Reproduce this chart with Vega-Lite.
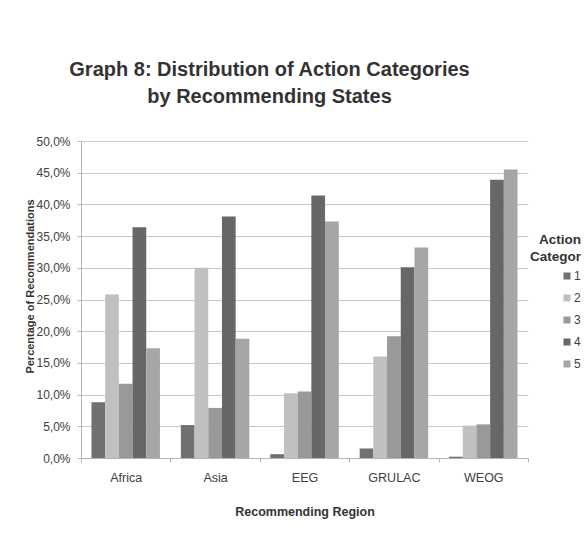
{
  "$schema": "https://vega.github.io/schema/vega-lite/v6.json",
  "autosize": {"type": "none"},
  "width": 447,
  "height": 317,
  "padding": {"left": 81, "top": 141, "right": 56, "bottom": 100},
  "background": "white",
  "title": {
    "text": ["Graph 8: Distribution of Action Categories", "by Recommending States"],
    "fontSize": 20,
    "fontWeight": "bold",
    "font": "Liberation Sans",
    "color": "#333333",
    "lineHeight": 27.5,
    "anchor": "middle",
    "dx": -35,
    "offset": 28
  },
  "data": {
    "values": [
      {"region": "Africa", "cat": "1", "pct": 0.088},
      {"region": "Africa", "cat": "2", "pct": 0.258},
      {"region": "Africa", "cat": "3", "pct": 0.117},
      {"region": "Africa", "cat": "4", "pct": 0.364},
      {"region": "Africa", "cat": "5", "pct": 0.173},
      {"region": "Asia", "cat": "1", "pct": 0.052},
      {"region": "Asia", "cat": "2", "pct": 0.300},
      {"region": "Asia", "cat": "3", "pct": 0.079},
      {"region": "Asia", "cat": "4", "pct": 0.381},
      {"region": "Asia", "cat": "5", "pct": 0.188},
      {"region": "EEG", "cat": "1", "pct": 0.006},
      {"region": "EEG", "cat": "2", "pct": 0.102},
      {"region": "EEG", "cat": "3", "pct": 0.105},
      {"region": "EEG", "cat": "4", "pct": 0.414},
      {"region": "EEG", "cat": "5", "pct": 0.373},
      {"region": "GRULAC", "cat": "1", "pct": 0.015},
      {"region": "GRULAC", "cat": "2", "pct": 0.160},
      {"region": "GRULAC", "cat": "3", "pct": 0.192},
      {"region": "GRULAC", "cat": "4", "pct": 0.301},
      {"region": "GRULAC", "cat": "5", "pct": 0.332},
      {"region": "WEOG", "cat": "1", "pct": 0.002},
      {"region": "WEOG", "cat": "2", "pct": 0.051},
      {"region": "WEOG", "cat": "3", "pct": 0.053},
      {"region": "WEOG", "cat": "4", "pct": 0.439},
      {"region": "WEOG", "cat": "5", "pct": 0.455}
    ]
  },
  "mark": {"type": "bar"},
  "encoding": {
    "x": {
      "field": "region",
      "type": "nominal",
      "sort": ["Africa", "Asia", "EEG", "GRULAC", "WEOG"],
      "scale": {"paddingInner": 0, "paddingOuter": 0},
      "axis": {
        "title": "Recommending Region",
        "labelAngle": 0,
        "tickBand": "extent",
        "grid": false,
        "tickSize": 4,
        "labelPadding": 9,
        "titlePadding": 22,
        "labelFontSize": 12.5,
        "titleFontSize": 12.5
      }
    },
    "xOffset": {
      "field": "cat",
      "type": "nominal",
      "scale": {"paddingInner": 0, "paddingOuter": 0.763}
    },
    "y": {
      "field": "pct",
      "type": "quantitative",
      "scale": {"domain": [0, 0.5], "nice": false},
      "axis": {
        "title": "Percentage of Recommendations",
        "format": ".1%",
        "values": [0, 0.05, 0.1, 0.15, 0.2, 0.25, 0.3, 0.35, 0.4, 0.45, 0.5],
        "tickSize": 4,
        "labelPadding": 7,
        "titlePadding": 0,
        "titleFontSize": 11,
        "labelFontSize": 12,
        "titleY": 145
      }
    },
    "color": {
      "field": "cat",
      "type": "nominal",
      "scale": {
        "domain": ["1", "2", "3", "4", "5"],
        "range": ["#717171", "#c0c0c0", "#999999", "#676767", "#a6a6a6"]
      },
      "legend": {
        "title": ["Action", "Categor"],
        "orient": "none",
        "legendX": 449,
        "legendY": 92,
        "titleAnchor": "end",
        "titleAlign": "right",
        "titleFontSize": 13.5,
        "titleFontWeight": "bold",
        "titleColor": "#333333",
        "titleLineHeight": 16.5,
        "titlePadding": 7,
        "symbolType": "square",
        "symbolSize": 49,
        "symbolOffset": 29,
        "symbolStrokeWidth": 0,
        "labelFontSize": 12,
        "labelOffset": 1,
        "labelColor": "#404040",
        "rowPadding": 10,
        "padding": 0
      }
    }
  },
  "config": {
    "font": "Liberation Sans",
    "locale": {
      "number": {"decimal": ",", "thousands": ".", "grouping": [3], "currency": ["", " €"]}
    },
    "view": {"stroke": null},
    "axis": {
      "labelColor": "#404040",
      "titleColor": "#333333",
      "titleFontWeight": "bold",
      "domainColor": "#b5b5b5",
      "tickColor": "#b5b5b5",
      "gridColor": "#c8c8c8",
      "gridWidth": 1.2,
      "labelFont": "Liberation Sans",
      "titleFont": "Liberation Sans"
    },
    "legend": {"labelFont": "Liberation Sans", "titleFont": "Liberation Sans"}
  }
}
